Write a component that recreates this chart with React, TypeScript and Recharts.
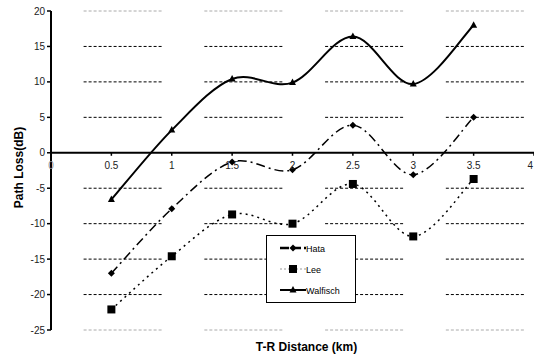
import { Legend, Line, LineChart, ReferenceLine, XAxis, YAxis } from "recharts";

// T-R distance (km) and path loss (dB) for each propagation model
const distance = [0.5, 1, 1.5, 2, 2.5, 3, 3.5];
const hata = [-17, -7.9, -1.3, -2.4, 3.9, -3.1, 5];
const lee = [-22.1, -14.6, -8.7, -10, -4.4, -11.8, -3.7];
const walfisch = [-6.6, 3.2, 10.4, 9.9, 16.4, 9.7, 18];

const xTicks = [0, 0.5, 1, 1.5, 2, 2.5, 3, 3.5, 4];
const yTicks = [-25, -20, -15, -10, -5, 0, 5, 10, 15, 20];

const data = distance.map((d, i) => ({
  d,
  hata: hata[i],
  lee: lee[i],
  walfisch: walfisch[i],
}));

const W = 534;
const H = 360;
const TOP = 11;
const X_AXIS_H = 30;
const Y_AXIS_W = 51;
const X_MAX = 4;
const Y_MIN = -25;
const Y_MAX = 20;
const PLOT_H = H - TOP - X_AXIS_H;
const ZERO_Y = TOP + (PLOT_H * Y_MAX) / (Y_MAX - Y_MIN);

const FONT = "'Liberation Sans', Arial, sans-serif";

// Broken dashed gridlines: a run of short dashes in each km, then a gap.
const UNIT_PX = (W - Y_AXIS_W) / X_MAX;
const GRID_RUNS = 16;
const GRID_DASH =
  Array(GRID_RUNS - 1).fill("3 2").join(" ") +
  ` 3 ${(UNIT_PX - (GRID_RUNS * 5 - 2)).toFixed(2)}`;
const GRID_OFFSET = UNIT_PX * (1 - 0.27);

type MarkerKind = "diamond" | "square" | "triangle";

const SERIES: {
  key: string;
  name: string;
  dash?: string;
  width: number;
  marker: MarkerKind;
}[] = [
  { key: "hata", name: "Hata", dash: "9 4 2 4", width: 1.5, marker: "diamond" },
  { key: "lee", name: "Lee", dash: "2 4", width: 1.5, marker: "square" },
  { key: "walfisch", name: "Walfisch", width: 2, marker: "triangle" },
];

// Smoothed line like a spreadsheet chart: cubic Bezier through every point,
// tangents taken from the neighbouring points.
const smooth = (context: any) => {
  let pts: [number, number][] = [];
  return {
    areaStart() {},
    areaEnd() {},
    lineStart() {
      pts = [];
    },
    point(x: number, y: number) {
      pts.push([+x, +y]);
    },
    lineEnd() {
      if (!pts.length) return;
      context.moveTo(pts[0][0], pts[0][1]);
      for (let i = 0; i < pts.length - 1; i++) {
        const p0 = pts[i - 1] ?? pts[i];
        const p1 = pts[i];
        const p2 = pts[i + 1];
        const p3 = pts[i + 2] ?? p2;
        context.bezierCurveTo(
          p1[0] + (p2[0] - p0[0]) / 6,
          p1[1] + (p2[1] - p0[1]) / 6,
          p2[0] - (p3[0] - p1[0]) / 6,
          p2[1] - (p3[1] - p1[1]) / 6,
          p2[0],
          p2[1]
        );
      }
    },
  };
};

function Marker({ cx, cy, kind }: { cx: number; cy: number; kind: MarkerKind }) {
  if (kind === "square") {
    return <rect x={cx - 4} y={cy - 4} width={8} height={8} fill="#000" />;
  }
  if (kind === "diamond") {
    return (
      <polygon
        points={`${cx},${cy - 3.5} ${cx + 3.5},${cy} ${cx},${cy + 3.5} ${cx - 3.5},${cy}`}
        fill="#000"
      />
    );
  }
  return (
    <polygon
      points={`${cx},${cy - 4} ${cx + 3.5},${cy + 2.5} ${cx - 3.5},${cy + 2.5}`}
      fill="#000"
    />
  );
}

// x labels sit under the zero line rather than at the bottom of the plot
function ZeroTick(props: any) {
  const { x, payload } = props;
  const last = payload.value === X_MAX;
  return (
    <g>
      <line x1={x} x2={x} y1={ZERO_Y} y2={ZERO_Y + 3} stroke="#000" strokeWidth={1.5} />
      <text
        x={last ? x - 1 : x}
        y={ZERO_Y + 16}
        textAnchor={last ? "end" : "middle"}
        fontSize={10}
        fontFamily={FONT}
        fill={payload.value === 0 ? "#888" : "#222"}
      >
        {payload.value}
      </text>
    </g>
  );
}

const LEGEND_SAMPLE: Record<string, { stroke: string; width: number; dash?: string }> = {
  hata: { stroke: "#000", width: 2.5, dash: "9 3" },
  lee: { stroke: "#999", width: 1, dash: "2 2" },
  walfisch: { stroke: "#000", width: 2 },
};

function LegendBox() {
  return (
    <svg width={90} height={68}>
      <rect x={0.5} y={0.5} width={89} height={67} fill="#fff" stroke="#000" />
      {SERIES.map((s, i) => {
        const cy = 13 + i * 21;
        const sample = LEGEND_SAMPLE[s.key];
        return (
          <g key={s.key}>
            <line
              x1={14}
              x2={40}
              y1={cy}
              y2={cy}
              stroke={sample.stroke}
              strokeWidth={sample.width}
              strokeDasharray={sample.dash}
            />
            <Marker cx={27} cy={cy} kind={s.marker} />
            <text x={40} y={cy + 3.5} fontSize={9} fontFamily={FONT} fill="#000">
              {s.name}
            </text>
          </g>
        );
      })}
    </svg>
  );
}

export default function App() {
  return (
    <div style={{ position: "absolute", left: 0, top: 0, background: "#fff" }}>
      <LineChart
        width={W}
        height={H}
        data={data}
        margin={{ top: TOP, right: 0, bottom: 0, left: 0 }}
      >
        <XAxis
          dataKey="d"
          type="number"
          domain={[0, X_MAX]}
          ticks={xTicks}
          interval={0}
          height={X_AXIS_H}
          axisLine={false}
          tickLine={false}
          tick={<ZeroTick />}
          label={{
            value: "T-R Distance (km)",
            position: "insideBottom",
            offset: 9,
            dx: 14,
            fontSize: 12,
            fontWeight: "bold",
            fontFamily: FONT,
            fill: "#000",
          }}
        />
        <YAxis
          type="number"
          domain={[Y_MIN, Y_MAX]}
          ticks={yTicks}
          interval={0}
          width={Y_AXIS_W}
          axisLine={{ stroke: "#000", strokeWidth: 2 }}
          tickLine={{ stroke: "#000", strokeWidth: 1.5 }}
          tickSize={4}
          tickMargin={2}
          tick={{ fontSize: 10, fontFamily: FONT, fill: "#222" }}
          label={{
            value: "Path Loss(dB)",
            angle: -90,
            position: "center",
            dx: -7,
            dy: -3,
            fontSize: 12,
            fontWeight: "bold",
            fontFamily: FONT,
            fill: "#000",
          }}
        />
        {yTicks
          .filter((v) => v !== 0)
          .map((v) => (
            <ReferenceLine
              key={v}
              y={v}
              stroke={v === Y_MIN || v === Y_MAX ? "#aaa" : "#000"}
              strokeWidth={1}
              strokeDasharray={GRID_DASH}
              strokeDashoffset={GRID_OFFSET}
            />
          ))}
        <ReferenceLine y={0} stroke="#000" strokeWidth={2} />
        {SERIES.map((s) => (
          <Line
            key={s.key}
            dataKey={s.key}
            name={s.name}
            type={smooth as any}
            stroke="#000"
            strokeWidth={s.width}
            strokeDasharray={s.dash}
            dot={(p: any) => (
              <Marker key={`${s.key}-${p.index}`} cx={p.cx} cy={p.cy} kind={s.marker} />
            )}
            activeDot={false}
            isAnimationActive={false}
          />
        ))}
        <Legend
          layout="vertical"
          align="center"
          verticalAlign="middle"
          width={90}
          height={68}
          wrapperStyle={{ left: 266, top: 235, width: 90, height: 68 }}
          content={() => <LegendBox />}
        />
      </LineChart>
    </div>
  );
}
